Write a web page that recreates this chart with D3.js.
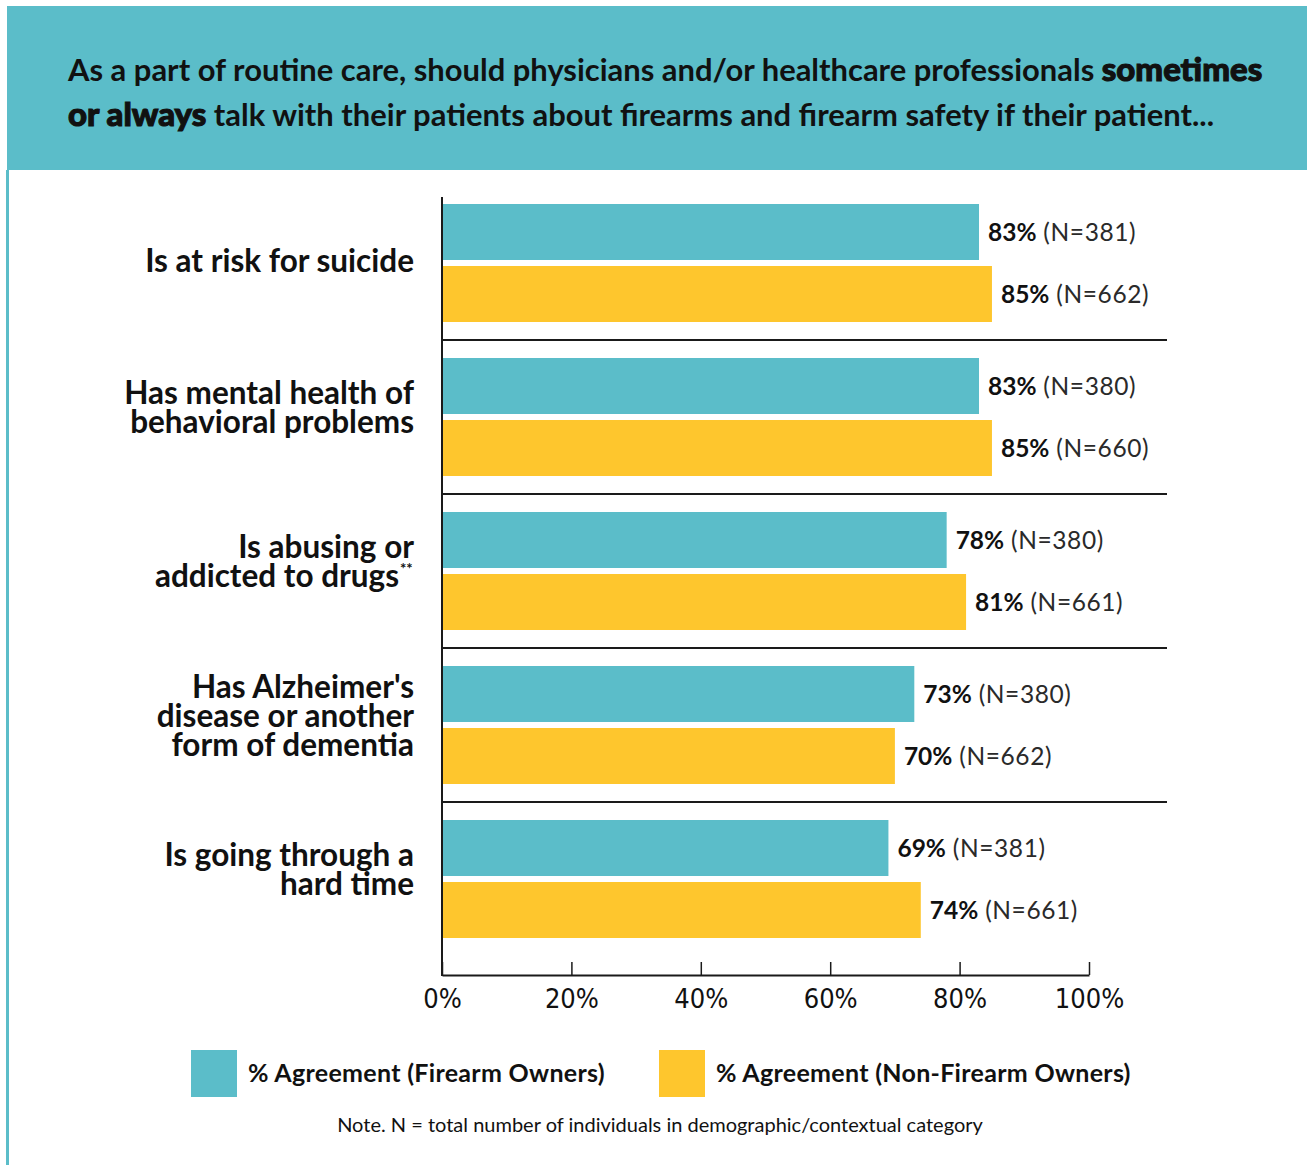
<!DOCTYPE html>
<html lang="en">
<head>
    <meta charset="UTF-8">
    <title>Firearm safety talk agreement</title>
    <script src="https://d3js.org/d3.v7.min.js"></script>
    <style>
        body { margin: 0; background: #fff; }
        svg { display: block; }
        .cond { font-family: "Liberation Sans Narrow", "DejaVu Sans Condensed", "Open Sans", sans-serif; font-stretch: condensed; }
        .lato { font-family: Lato, "Open Sans", sans-serif; }
    </style>
</head>
<body>
<div id="chart"></div>
<script>
    // data
    var categories = [
        ['Is at risk for suicide'],
        ['Has mental health of', 'behavioral problems'],
        ['Is abusing or', 'addicted to drugs'],
        ["Has Alzheimer's", 'disease or another', 'form of dementia'],
        ['Is going through a', 'hard time']
    ];
    var ownersPct = [83, 83, 78, 73, 69];
    var ownersN = [381, 380, 380, 380, 381];
    var nonOwnersPct = [85, 85, 81, 70, 74];
    var nonOwnersN = [662, 660, 661, 662, 661];
    var xTicks = [0, 20, 40, 60, 80, 100];
    var seriesNames = ['% Agreement (Firearm Owners)', '% Agreement (Non-Firearm Owners)'];

    var teal = '#5bbdc9';
    var yellow = '#fec62d';
    var width = 1307, height = 1165;

    var svg = d3.select('#chart').append('svg')
        .attr('width', width)
        .attr('height', height);

    // header band + left border
    svg.append('rect').attr('x', 7).attr('y', 6).attr('width', width - 7).attr('height', 164).attr('fill', teal);
    svg.append('rect').attr('x', 6).attr('y', 170).attr('width', 3).attr('height', height - 170).attr('fill', teal);

    var title = svg.append('text').attr('class', 'lato').attr('fill', '#111').attr('font-size', 29);
    var l1 = title.append('tspan').attr('x', 68).attr('y', 81);
    l1.append('tspan').attr('font-weight', 700).text('As a part of routine care, should physicians and/or healthcare professionals ');
    var heavy1 = l1.append('tspan').attr('font-weight', 900).text('sometimes');
    var l2 = title.append('tspan').attr('x', 68).attr('y', 126);
    var heavy2 = l2.append('tspan').attr('font-weight', 900).text('or always');
    l2.append('tspan').attr('font-weight', 700).text(' talk with their patients about firearms and firearm safety if their patient...');
    // fit first line to the header width
    var w1 = title.node().getSubStringLength(0, l1.text().length);
    var fs = Math.min(32, 29 * 1185 / w1);
    title.attr('font-size', fs);
    // the emphasised words are heavier than the rest
    [heavy1, heavy2].forEach(function (h) {
        h.attr('font-size', fs + 2).attr('stroke', '#111').attr('stroke-width', 1.1);
    });

    // scales
    var x = d3.scaleLinear().domain([0, 100]).range([442, 1089]);
    var y = d3.scaleBand().domain(d3.range(categories.length)).range([186, 956]);
    var barH = 56;

    var groups = svg.append('g').selectAll('g')
        .data(categories)
        .enter()
        .append('g')
        .attr('transform', function (d, i) { return 'translate(0,' + y(i) + ')'; });

    groups.append('rect')
        .attr('x', x(0))
        .attr('y', 18)
        .attr('width', function (d, i) { return x(ownersPct[i]) - x(0); })
        .attr('height', barH)
        .attr('fill', teal);

    groups.append('rect')
        .attr('x', x(0))
        .attr('y', 80)
        .attr('width', function (d, i) { return x(nonOwnersPct[i]) - x(0); })
        .attr('height', barH)
        .attr('fill', yellow);

    function valueLabel(sel, pct, n, yy) {
        var t = sel.append('text')
            .attr('class', 'lato')
            .attr('x', function (d, i) { return x(pct[i]) + 9; })
            .attr('y', yy)
            .attr('font-size', 24.5);
        t.append('tspan').attr('font-weight', 700).attr('fill', '#111')
            .text(function (d, i) { return pct[i] + '%'; });
        t.append('tspan').attr('font-weight', 400).attr('fill', '#2a2a2a').attr('letter-spacing', 0.6)
            .text(function (d, i) { return ' (N=' + n[i] + ')'; });
    }
    valueLabel(groups, ownersPct, ownersN, 55);
    valueLabel(groups, nonOwnersPct, nonOwnersN, 117);

    // category labels
    groups.each(function (lines, i) {
        var g = d3.select(this);
        var lh = 29;
        var n = lines.length;
        var first = n == 1 ? 86 : 92 - n * 14;
        var t = g.append('text')
            .attr('class', 'lato')
            .attr('text-anchor', 'end')
            .attr('font-size', 31.5)
            .attr('font-weight', 700)
            .attr('fill', '#111');
        lines.forEach(function (line, k) {
            t.append('tspan').attr('x', 414).attr('y', first + k * lh).text(line);
        });
        if (i == 2) {
            // footnote marks after "drugs"
            t.selectAll('tspan').filter(function (d, k) { return k == 1; })
                .attr('x', 399);
            g.append('text').attr('class', 'lato').attr('x', 400).attr('y', first + lh - 13)
                .attr('font-size', 15).attr('font-weight', 700).attr('fill', '#111').text('**');
        }
    });

    // separators between groups
    svg.append('g').selectAll('line')
        .data(d3.range(1, categories.length))
        .enter()
        .append('line')
        .attr('x1', x(0))
        .attr('x2', 1167)
        .attr('y1', function (d) { return y(d); })
        .attr('y2', function (d) { return y(d); })
        .attr('stroke', '#1a1a1a')
        .attr('stroke-width', 2);

    // axes
    var xAxis = d3.axisBottom(x)
        .tickValues(xTicks)
        .tickSizeInner(-13)
        .tickSizeOuter(0)
        .tickPadding(18)
        .tickFormat(function (d) { return d + '%'; });

    var ax = svg.append('g')
        .attr('transform', 'translate(0,975)')
        .call(xAxis);
    ax.select('.domain').attr('stroke', '#1a1a1a').attr('stroke-width', 2);
    ax.selectAll('.tick line').attr('stroke', '#1a1a1a').attr('stroke-width', 1.5);
    ax.selectAll('.tick text')
        .attr('class', 'cond')
        .attr('font-size', 27)
        .attr('fill', '#111')
        .attr('dy', '0.55em');

    svg.append('line')
        .attr('x1', x(0)).attr('x2', x(0))
        .attr('y1', 197).attr('y2', 976)
        .attr('stroke', '#1a1a1a').attr('stroke-width', 2);

    // legend
    var legend = svg.append('g');
    var legX = [191, 659];
    var legColors = [teal, yellow];
    seriesNames.forEach(function (name, i) {
        legend.append('rect').attr('x', legX[i]).attr('y', 1050)
            .attr('width', 46).attr('height', 47).attr('fill', legColors[i]);
        legend.append('text').attr('class', 'lato')
            .attr('x', legX[i] + 57).attr('y', 1082)
            .attr('font-size', 25).attr('font-weight', 700).attr('fill', '#111')
            .attr('letter-spacing', 0.3)
            .text(name);
    });

    svg.append('text').attr('class', 'lato')
        .attr('x', 660).attr('y', 1132)
        .attr('text-anchor', 'middle')
        .attr('font-size', 20).attr('fill', '#111')
        .text('Note. N = total number of individuals in demographic/contextual category');
</script>
</body>
</html>
